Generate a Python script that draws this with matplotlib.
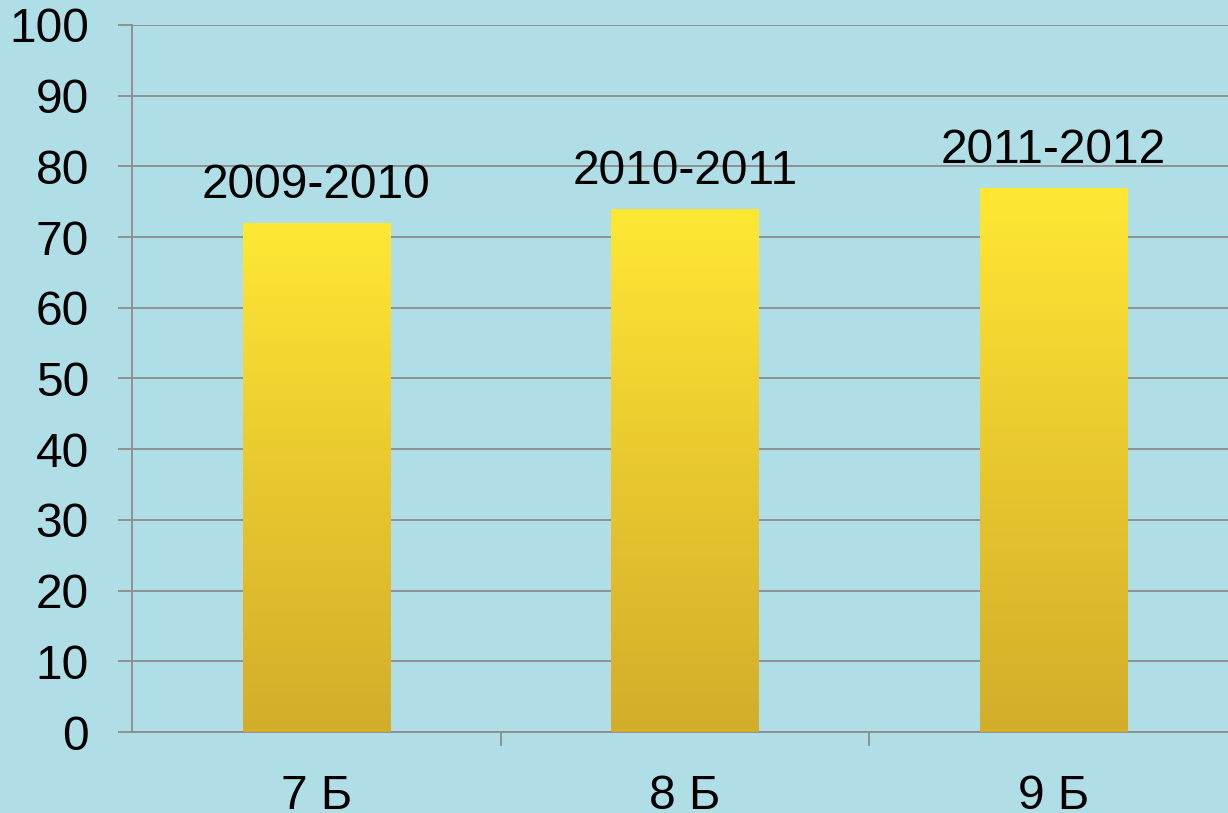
import matplotlib
matplotlib.use("Agg")
import matplotlib.pyplot as plt
import numpy as np
from matplotlib.colors import LinearSegmentedColormap

categories = ["7 Б", "8 Б", "9 Б"]
values = [72, 74, 77]
bar_labels = ["2009-2010", "2010-2011", "2011-2012"]
yticks = list(range(0, 101, 10))

plt.rcParams['font.family'] = ['Liberation Sans', 'DejaVu Sans']

W, H = 1228, 813
fig = plt.figure(figsize=(W / 100, H / 100), dpi=100)
bg = "#afdee6"
fig.patch.set_facecolor(bg)

ax = fig.add_axes([132 / W, 81 / H, 1106 / W, 707 / H])
ax.set_facecolor("none")
ax.set_xlim(-0.5, 2.5)
ax.set_ylim(0, 100)

x = np.arange(len(categories))
bars = ax.bar(x, values, width=0.4, color="none", edgecolor="none", zorder=3)

cmap = LinearSegmentedColormap.from_list("gold", ["#d3ad2a", "#e8c82f", "#ffe834"])
grad = np.linspace(0, 1, 256).reshape(-1, 1)
for b in bars:
    x0, y0 = b.get_x(), b.get_y()
    w, h = b.get_width(), b.get_height()
    im = ax.imshow(grad, cmap=cmap, aspect="auto", origin="lower",
                   extent=[x0, x0 + w, y0, y0 + h], zorder=3)
    im.set_clip_path(b)

for xi, v, lab in zip(x, values, bar_labels):
    ax.annotate(lab, (xi, v), xytext=(0, 18), textcoords="offset points",
                ha="center", va="baseline", fontsize=34.5, color="black", zorder=5)

ax.set_yticks(yticks)
ax.set_yticklabels([str(t) for t in yticks])
ax.yaxis.grid(True, color="#8c8c8c", linewidth=1.3, zorder=1)
ax.set_axisbelow(True)

ax.set_xticks(x)
ax.set_xticklabels(categories)
ax.set_xticks([0.5, 1.5, 2.5], minor=True)
ax.tick_params(axis="x", which="major", length=0, pad=30, labelsize=34.5)
ax.tick_params(axis="x", which="minor", length=10, width=1.3, color="#8c8c8c")
ax.tick_params(axis="y", length=10, width=1.3, color="#8c8c8c", pad=21, labelsize=34.5)

for s in ["top", "right"]:
    ax.spines[s].set_visible(False)
for s in ["left", "bottom"]:
    ax.spines[s].set_color("#8c8c8c")
    ax.spines[s].set_linewidth(1.3)

fig.savefig("out.png", dpi=100, facecolor=bg)
